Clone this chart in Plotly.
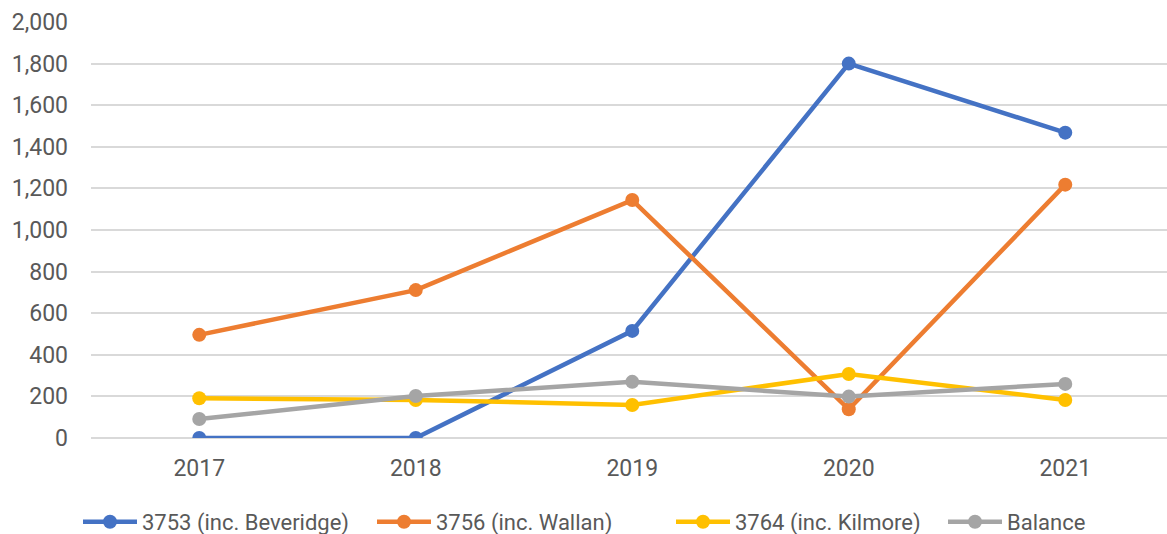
import plotly.graph_objects as go

years = ["2017", "2018", "2019", "2020", "2021"]
beveridge = [0, 0, 515, 1800, 1468]
wallan = [496, 711, 1144, 138, 1218]
kilmore = [191, 183, 159, 308, 183]
balance = [91, 202, 270, 199, 260]

series = [
    ("3753 (inc. Beveridge)", beveridge, "#4472C4", "legend", 78),
    ("3756 (inc. Wallan)", wallan, "#ED7D31", "legend2", 372),
    ("3764 (inc. Kilmore)", kilmore, "#FFC000", "legend3", 671),
    ("Balance", balance, "#A5A5A5", "legend4", 943),
]

W, H = 1167, 534

fig = go.Figure()
legends = {}
for name, vals, color, leg, x_px in series:
    fig.add_trace(go.Scatter(
        x=years, y=vals, name=name, mode="lines+markers",
        line=dict(color=color, width=4.5),
        marker=dict(color=color, size=14),
        legend=leg,
    ))
    # one legend box per series so each entry sits at its own spot
    legends[leg] = dict(
        xref="container", yref="container",
        x=x_px / W, xanchor="left",
        y=(H - 522) / H, yanchor="middle",
        orientation="h", itemwidth=54,
        bgcolor="rgba(0,0,0,0)", borderwidth=0,
        font=dict(family="Roboto", size=22, color="#595959"),
    )

fig.update_layout(
    width=W, height=H,
    margin=dict(l=91, r=0, t=22, b=96),
    paper_bgcolor="white", plot_bgcolor="white",
    font=dict(family="Roboto", size=23, color="#595959"),
    showlegend=True,
    **legends,
    xaxis=dict(type="category", range=[-0.5, 4.47], showgrid=False,
               showline=False, zeroline=False, ticks="", ticklabelstandoff=14,
               tickfont=dict(size=23, color="#595959")),
    yaxis=dict(range=[0, 2000], dtick=200, tickformat=",", showgrid=True,
               gridcolor="#D9D9D9", gridwidth=1.5, zeroline=True,
               zerolinecolor="#D9D9D9", zerolinewidth=1.5, showline=False,
               ticks="", ticklabelstandoff=22,
               tickfont=dict(size=23, color="#595959")),
)

fig.write_html("out.html")
